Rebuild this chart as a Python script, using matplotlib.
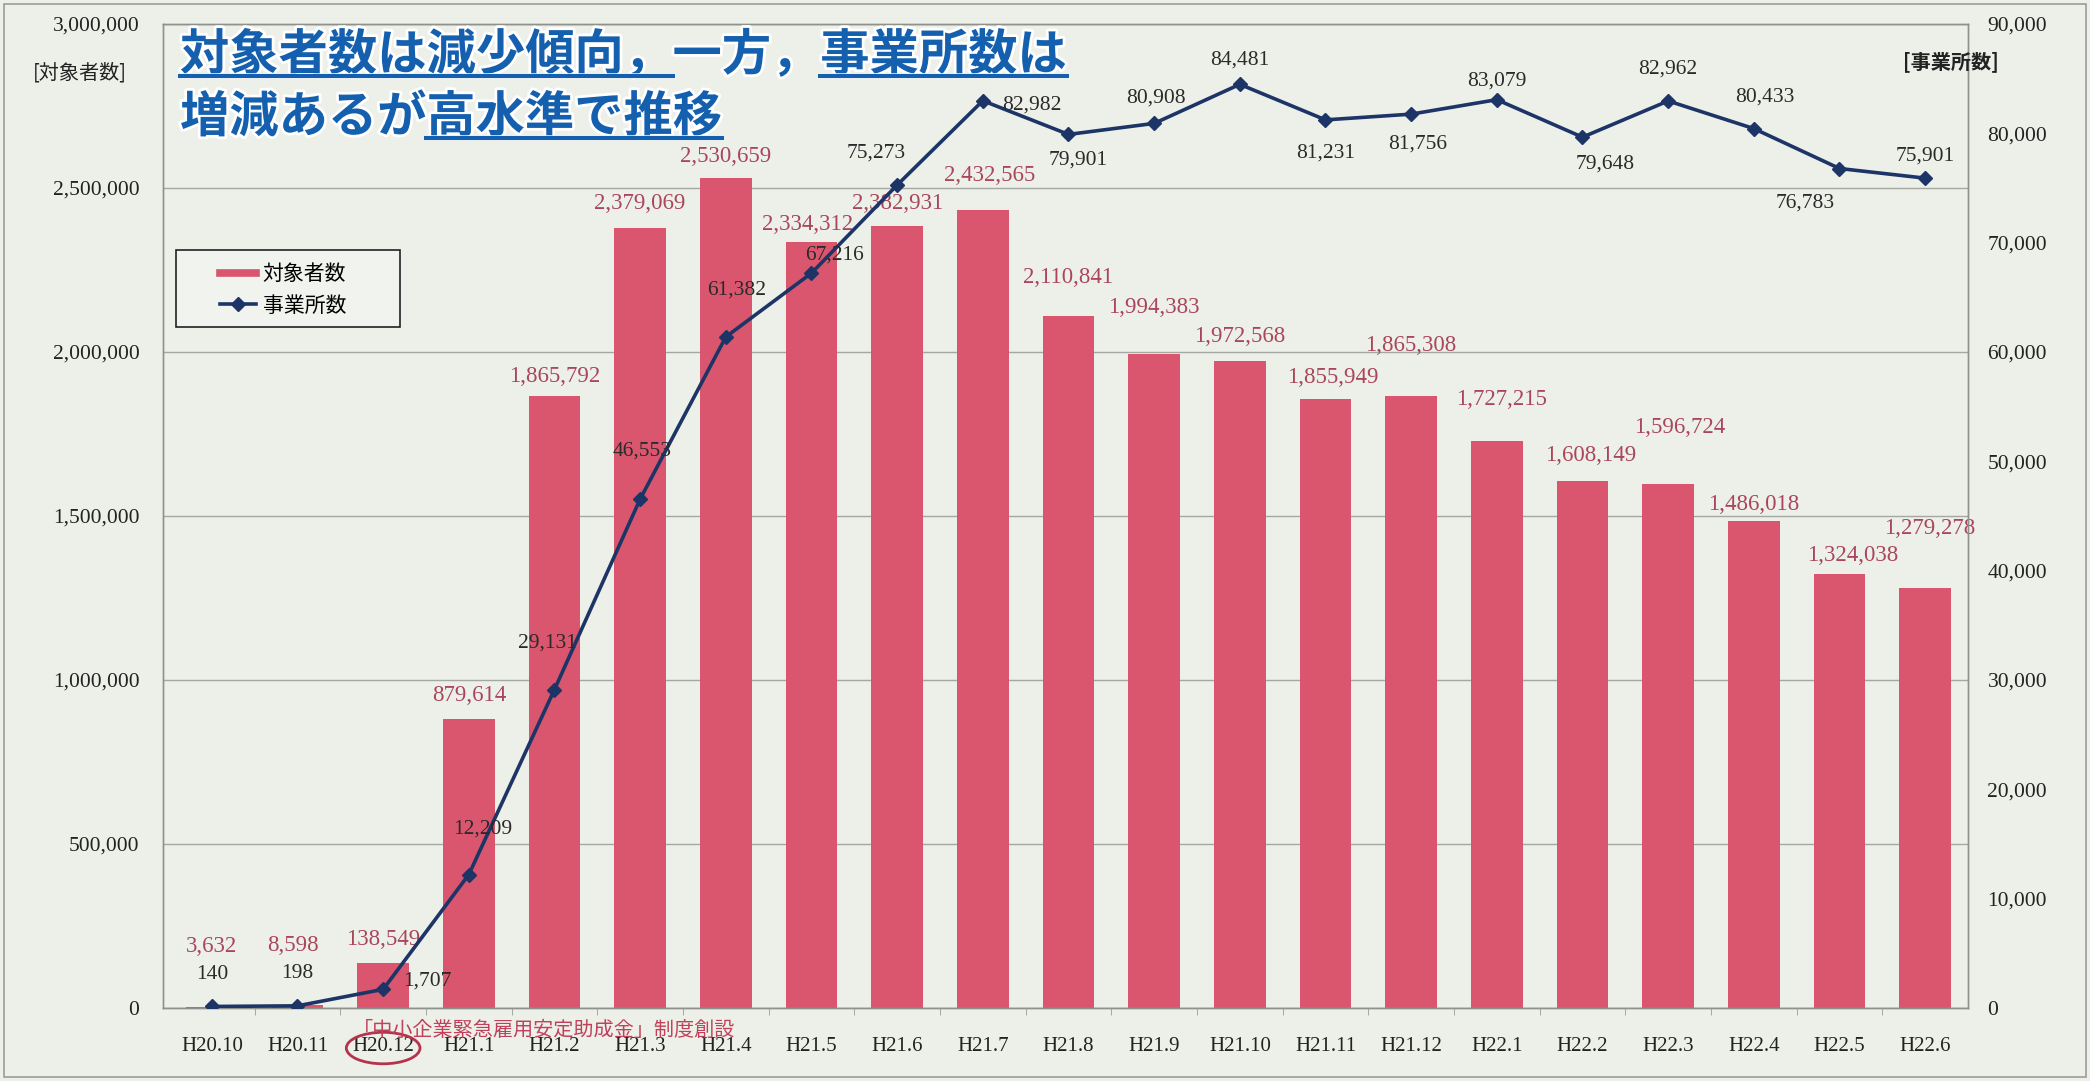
import matplotlib
matplotlib.use('Agg')
import matplotlib.pyplot as plt
from matplotlib.lines import Line2D
from matplotlib.patches import Rectangle, Ellipse
import matplotlib.patheffects as pe
import matplotlib.transforms as mtransforms
from matplotlib.ticker import FuncFormatter

# ---------------- data ----------------
categories = ["H20.10", "H20.11", "H20.12", "H21.1", "H21.2", "H21.3", "H21.4",
              "H21.5", "H21.6", "H21.7", "H21.8", "H21.9", "H21.10", "H21.11",
              "H21.12", "H22.1", "H22.2", "H22.3", "H22.4", "H22.5", "H22.6"]
workers = [3632, 8598, 138549, 879614, 1865792, 2379069, 2530659, 2334312,
           2382931, 2432565, 2110841, 1994383, 1972568, 1855949, 1865308,
           1727215, 1608149, 1596724, 1486018, 1324038, 1279278]
offices = [140, 198, 1707, 12209, 29131, 46553, 61382, 67216, 75273, 82982,
           79901, 80908, 84481, 81231, 81756, 83079, 79648, 82962, 80433,
           76783, 75901]
left_ticks = [0, 500000, 1000000, 1500000, 2000000, 2500000, 3000000]
right_ticks = [0, 10000, 20000, 30000, 40000, 50000, 60000, 70000, 80000, 90000]
legend_labels = ["対象者数", "事業所数"]
left_axis_label = "[対象者数]"
right_axis_label = "[事業所数]"
note_text = "「中小企業緊急雇用安定助成金」制度創設"
title_line1 = [("対象者数は減少傾向，", True), ("一方，", False), ("事業所数は", True)]
title_line2 = [("増減あるが", False), ("高水準で推移", True)]

# label placement (style): x shift in category units, y shift in pixels
bar_dx = [0, -0.05, 0, 0, 0, 0, 0, -0.05, 0, 0.08, 0, 0, 0, 0.08, 0, 0.06,
          0.1, 0.13, 0, 0.15, 0.05]
bar_dy = [60, 60, 23, 24, 20, 24, 21, 18, 23, 35, 38, 46, 24, 22, 51, 42,
          25, 57, 16, 18, 60]
line_dx = [0, 0, 0.52, 0.16, -0.08, 0.02, 0.13, 0.27, -0.24, 0.57, 0.11,
           0.02, 0, 0, 0.07, 0, 0.26, 0, 0.13, -0.4, 0]
line_dy = [32, 32, 8, 45, 46, 48, 47, 18, 32, -4, -26, 25, 24, -33, -30, 19,
           -27, 32, 32, -35, 22]

plt.rcParams['font.family'] = ['Noto Sans CJK JP', 'DejaVu Sans']

W, H = 2090, 1081
BG = '#edf0e9'
BAR = '#d9566e'
BARTXT = '#a9465a'
LINE = '#1d3566'
BLUE = '#1560ae'
SPINE = '#8f928c'
NUMFONT = 'Liberation Serif'
PX = 0.72  # points per pixel at dpi 100

fig = plt.figure(figsize=(W / 100, H / 100), dpi=100, facecolor=BG)
ax = fig.add_axes([163 / W, 1 - 1008 / H, (1968 - 163) / W, (1008 - 24) / H])
ax.set_facecolor(BG)
x = list(range(len(categories)))

ax.bar(x, workers, width=0.6, color=BAR, zorder=2)
ax.set_xlim(-0.57, 20.5)
ax.set_ylim(0, 3000000)
ax.set_yticks(left_ticks)
ax.yaxis.set_major_formatter(FuncFormatter(lambda v, p: f"{int(v):,}"))
ax.grid(axis='y', color='#a5a8a2', lw=1.0)
ax.set_axisbelow(True)
ax.set_xticks(x)
ax.set_xticklabels(categories)
ax.set_xticks([i + 0.5 for i in x[:-1]], minor=True)
ax.tick_params(axis='x', which='major', length=0, pad=21, labelsize=15,
               labelfontfamily=NUMFONT, labelcolor='#222222')
ax.tick_params(axis='x', which='minor', length=5, color='#9a9c98')
ax.tick_params(axis='y', length=0, pad=17, labelsize=15.5,
               labelfontfamily=NUMFONT, labelcolor='#222222')
for s in ax.spines.values():
    s.set_color(SPINE)
    s.set_linewidth(1.0)

for i, v in enumerate(workers):
    ax.annotate(f"{v:,}", xy=(i + bar_dx[i], v), xytext=(0, bar_dy[i] * PX),
                textcoords='offset points', ha='center', va='center',
                fontfamily=NUMFONT, fontsize=16.5, color=BARTXT, zorder=4)

ax2 = ax.twinx()
ax2.plot(x, offices, color=LINE, lw=2.6, marker='D', ms=7.5,
         markeredgecolor=LINE, zorder=3)
ax2.set_ylim(0, 90000)
ax2.set_yticks(right_ticks)
ax2.yaxis.set_major_formatter(FuncFormatter(lambda v, p: f"{int(v):,}"))
ax2.tick_params(axis='y', length=0, pad=14, labelsize=15.5,
                labelfontfamily=NUMFONT, labelcolor='#222222')
for s in ax2.spines.values():
    s.set_color(SPINE)
    s.set_linewidth(1.0)

for i, v in enumerate(offices):
    ax2.annotate(f"{v:,}", xy=(i + line_dx[i], v), xytext=(0, line_dy[i] * PX),
                 textcoords='offset points', ha='center', va='center',
                 fontfamily=NUMFONT, fontsize=15.5, color='#2a2a2a', zorder=4)

# legend box + legend
ax2.add_patch(Rectangle((0.0072, 0.692), 0.124, 0.078, transform=ax2.transAxes,
                        facecolor='#f1f3ee', edgecolor='#222222', lw=1.2,
                        zorder=5, clip_on=False))
handles = [Line2D([], [], color=BAR, lw=5.5),
           Line2D([], [], color=LINE, lw=2.6, marker='D', ms=7)]
leg = ax2.legend(handles, legend_labels, loc='upper left',
                 bbox_to_anchor=(0.0316, 0.757), frameon=False, borderpad=0,
                 fontsize=15, handlelength=1.75, handletextpad=0.3,
                 labelspacing=0.45, borderaxespad=0)
leg.set_zorder(6)

# note below the axis and ellipse around H20.12
blend = mtransforms.blended_transform_factory(ax.transData, ax.transAxes)
ax.text(1.65, -0.023, note_text, transform=blend, ha='left', va='center',
        fontsize=14.5, color='#c0415a', clip_on=False)
ax.add_patch(Ellipse((2, -0.0407), 0.86, 0.032, transform=blend, fill=False,
                     edgecolor='#b3344c', lw=2, clip_on=False))

# axis titles
fig.text(80 / W, 1 - 73 / H, left_axis_label, ha='center', va='center',
         fontsize=14.5, color='#222222')
fig.text(1951 / W, 1 - 62 / H, right_axis_label, ha='center', va='center',
         fontsize=14.5, color='#222222', weight='bold')

# title (two lines, partially underlined)
stroke = [pe.withStroke(linewidth=4, foreground='white')]
underlined = []
for line, (x0, y0) in ((title_line1, (180 / W, 1 - 80 / H)),
                       (title_line2, (180 / W, 1 - 142 / H))):
    prev = None
    for s, ul in line:
        if prev is None:
            t = ax2.annotate(s, xy=(x0, y0), xycoords='figure fraction',
                             ha='left', va='bottom', fontsize=35.5,
                             weight='bold', color=BLUE, zorder=10,
                             path_effects=stroke)
        else:
            t = ax2.annotate(s, xy=(1, 0), xycoords=prev, ha='left',
                             va='bottom', fontsize=35.5, weight='bold',
                             color=BLUE, zorder=10, path_effects=stroke)
        if ul:
            underlined.append(t)
        prev = t

# figure border
fig.add_artist(Rectangle((4 / W, 4 / H), (W - 8) / W, (H - 8) / H,
                         transform=fig.transFigure, fill=False,
                         edgecolor='#9a9c98', lw=1.2))

fig.canvas.draw()
for t in underlined:
    bb = t.get_window_extent()
    yy = bb.y0 + 4
    fig.add_artist(Line2D([bb.x0 / W, bb.x1 / W], [yy / H, yy / H],
                          transform=fig.transFigure, color=BLUE, lw=3,
                          path_effects=stroke, zorder=10))

fig.savefig('out.png', dpi=100, facecolor=BG)
